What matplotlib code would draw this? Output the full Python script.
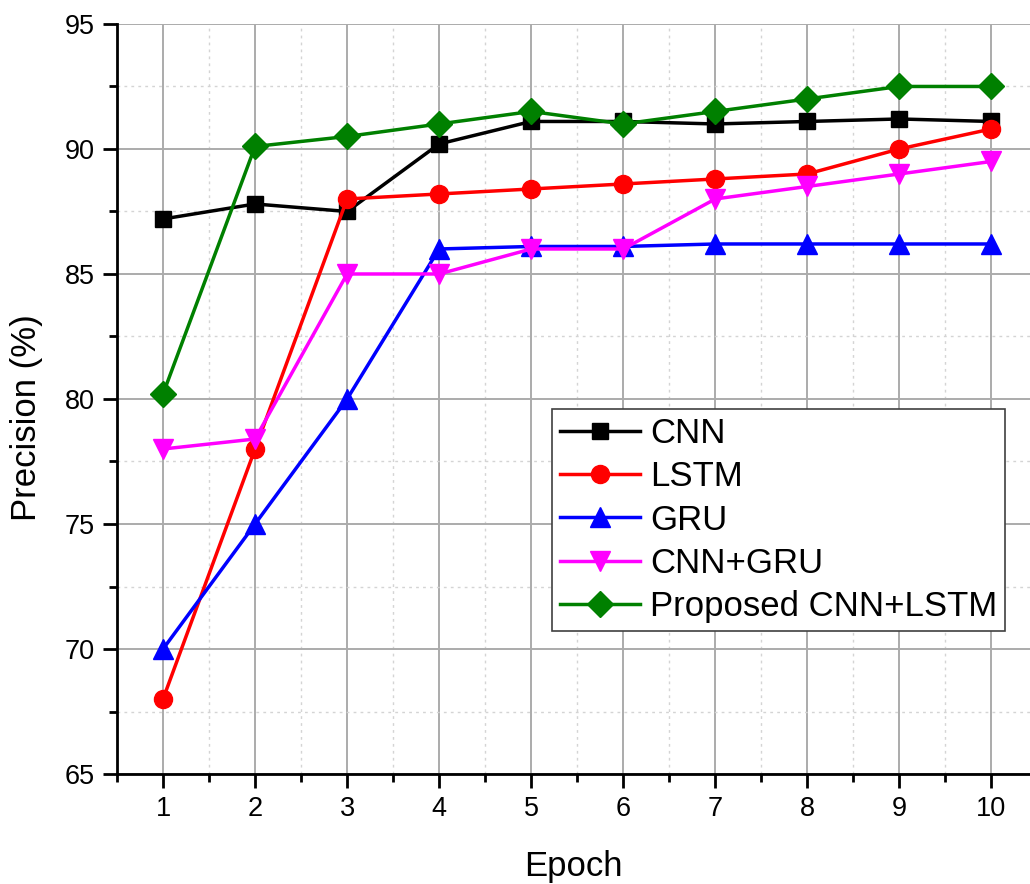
import matplotlib.pyplot as plt
from matplotlib.ticker import MultipleLocator

plt.rcParams['font.family'] = ['Liberation Sans', 'DejaVu Sans']

# Data
epochs = [1, 2, 3, 4, 5, 6, 7, 8, 9, 10]
cnn = [87.2, 87.8, 87.5, 90.2, 91.1, 91.1, 91.0, 91.1, 91.2, 91.1]
lstm = [68.0, 78.0, 88.0, 88.2, 88.4, 88.6, 88.8, 89.0, 90.0, 90.8]
gru = [70.0, 75.0, 80.0, 86.0, 86.1, 86.1, 86.2, 86.2, 86.2, 86.2]
cnn_gru = [78.0, 78.4, 85.0, 85.0, 86.0, 86.0, 88.0, 88.5, 89.0, 89.5]
proposed = [80.2, 90.1, 90.5, 91.0, 91.5, 91.0, 91.5, 92.0, 92.5, 92.5]

series = [
    ("CNN", cnn, "black", "s", 12),
    ("LSTM", lstm, "#ff0000", "o", 13),
    ("GRU", gru, "#0000ff", "^", 14),
    ("CNN+GRU", cnn_gru, "#ff00ff", "v", 14),
    ("Proposed CNN+LSTM", proposed, "#008000", "D", 13),
]

fig = plt.figure(figsize=(10.3, 8.84), dpi=100)
ax = fig.add_axes([0.1136, 0.1244, 0.8864, 0.8485])

for name, vals, col, mk, ms in series:
    ax.plot(epochs, vals, color=col, marker=mk, markersize=ms, linewidth=2.5,
            label=name, zorder=3)

ax.set_xlim(0.5, 10.42)
ax.set_ylim(65, 95)
ax.xaxis.set_major_locator(MultipleLocator(1))
ax.xaxis.set_minor_locator(MultipleLocator(0.5))
ax.yaxis.set_major_locator(MultipleLocator(5))
ax.yaxis.set_minor_locator(MultipleLocator(2.5))

# grid: solid major, dotted minor
ax.grid(which='major', color='#ababab', linewidth=1.4, linestyle='-')
ax.grid(which='minor', color='#d4d4d4', linewidth=1.0, linestyle=(0, (2, 3)))
ax.set_axisbelow(True)

ax.spines['top'].set_visible(False)
ax.spines['right'].set_visible(False)
ax.spines['left'].set_linewidth(2)
ax.spines['bottom'].set_linewidth(2)

ax.tick_params(axis='both', which='major', direction='out', length=10, width=2,
               labelsize=19.5, pad=6)
ax.tick_params(axis='both', which='minor', direction='out', length=6, width=2)

ax.set_xlabel("Epoch", fontsize=25, labelpad=20)
ax.set_ylabel("Precision (%)", fontsize=25)
ax.yaxis.set_label_coords(-0.081, 0.475)

leg = ax.legend(loc='lower right', bbox_to_anchor=(0.9726, 0.1907),
                fontsize=25, frameon=True, fancybox=False, framealpha=1,
                edgecolor='#404040', handlelength=2.3, handletextpad=0.3,
                borderpad=0.22, labelspacing=0.3, borderaxespad=0)
leg.get_frame().set_linewidth(1.2)

fig.savefig("out.png", dpi=100)
